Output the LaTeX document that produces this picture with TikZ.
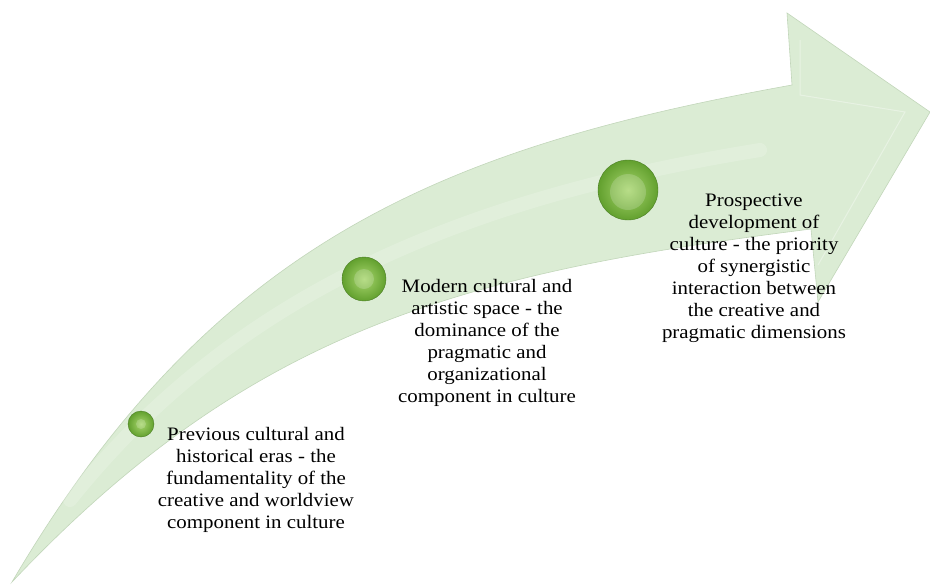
\documentclass[tikz,border=0pt]{standalone}
\usepackage{fontspec}
\setmainfont{Liberation Serif}[FakeStretch=1.1]

\definecolor{bandgreen}{RGB}{219,236,212}
\definecolor{bandedge}{RGB}{194,214,186}
\definecolor{ballin}{RGB}{168,214,110}
\definecolor{ballout}{RGB}{98,160,46}
\definecolor{ballrim}{RGB}{74,126,36}

\begin{document}
\begin{tikzpicture}[x=1pt,y=-1pt]
        \useasboundingbox (0,0) rectangle (930,587);

        % the bent band and its head
        \fill[bandgreen, draw=bandedge, line width=0.6pt]
          (12,582) .. controls (212,242) and (442,148) .. (792,85)
          -- (787,13) -- (930,112) -- (818,302) -- (811,229)
          .. controls (461,273) and (250,330) .. (12,582)
          -- cycle;

        % bevel of the head
        \draw[white, opacity=.35, line width=1pt]
          (800,40) -- (800,95) -- (905,112) -- (818,265);

        % soft light streak
        \draw[white, opacity=.18, line width=14pt, line cap=round]
          (70,500) .. controls (230,300) and (450,200) .. (760,150);

        \begin{scope}[every node/.style={circle, inner sep=0pt, draw=ballrim, line width=0.4pt, inner color=ballin, outer color=ballout}]
          \node[minimum size=26pt] (ball1) at (141,424) {};
          \node[minimum size=44pt] (ball2) at (364,279) {};
          \node[minimum size=60pt] (ball3) at (628,190) {};
        \end{scope}

        % dimples on the balls
        \begin{scope}[every node/.style={circle, inner sep=0pt, fill=white, opacity=.18}]
          \node[minimum size=10pt] at (ball1) {};
          \node[minimum size=20pt] at (ball2) {};
          \node[minimum size=36pt] at ([yshift=-2pt]ball3) {};
        \end{scope}

        \begin{scope}[every node/.style={align=center, font=\fontsize{19}{22}\selectfont}]
          \node (era1) at (256,480) {Previous cultural and\\historical eras - the\\fundamentality of the\\creative and worldview\\component in culture};
          \node (era2) at (487,343) {Modern cultural and\\artistic space - the\\dominance of the\\pragmatic and\\organizational\\component in culture};
          \node (era3) at (754,268) {Prospective\\development of\\culture - the priority\\of synergistic\\interaction between\\the creative and\\pragmatic dimensions};
        \end{scope}

      \end{tikzpicture}
\end{document}
